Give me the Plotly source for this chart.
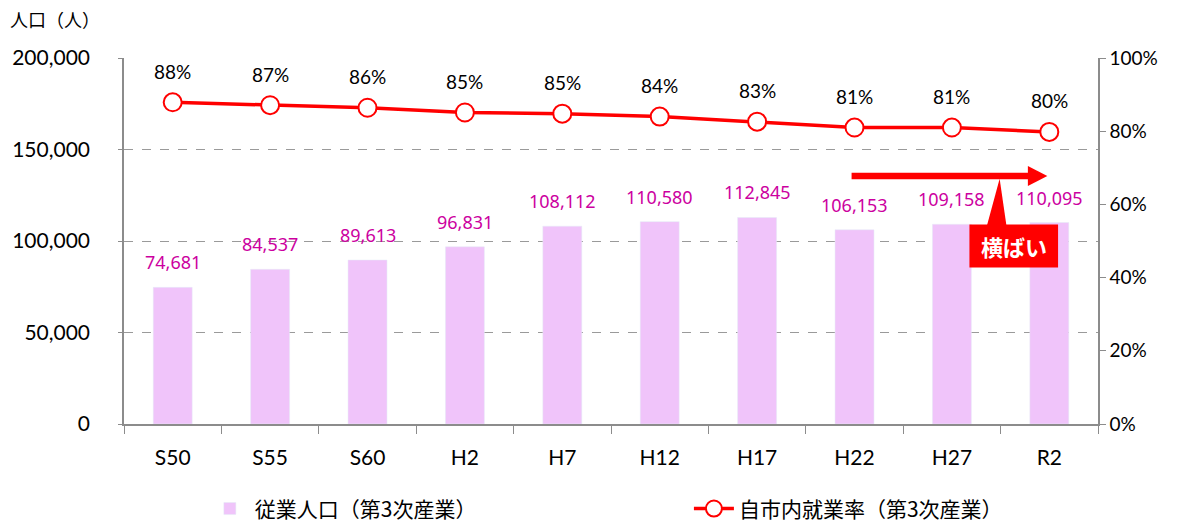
import plotly.graph_objects as go

categories = ["S50", "S55", "S60", "H2", "H7", "H12", "H17", "H22", "H27", "R2"]
workers = [74681, 84537, 89613, 96831, 108112, 110580, 112845, 106153, 109158, 110095]
rate = [0.879, 0.871, 0.864, 0.851, 0.848, 0.840, 0.826, 0.810, 0.810, 0.798]
rate_labels = ["88%", "87%", "86%", "85%", "85%", "84%", "83%", "81%", "81%", "80%"]

NUM_FONT = "Lato, Noto Sans CJK JP"
LBL_FONT = "Noto Sans, Noto Sans CJK JP"
JP_FONT = "Noto Sans CJK JP"
GRAY = "#8c8c8c"

fig = go.Figure()
fig.add_trace(go.Bar(
    x=categories, y=workers, name="従業人口（第3次産業）",
    marker=dict(color="#F0C4FA"), width=0.4, legend="legend", showlegend=True,
))
fig.add_trace(go.Scatter(
    x=categories, y=rate, name="自市内就業率（第3次産業）", yaxis="y2",
    mode="lines+markers", legend="legend2", showlegend=True,
    line=dict(color="#FF0000", width=3.5),
    marker=dict(size=18, color="white", line=dict(color="#FF0000", width=2)),
))

annotations = []
for c, v in zip(categories, workers):
    annotations.append(dict(x=c, y=v, xref="x", yref="y", text=f"{v:,}", showarrow=False,
                            yanchor="bottom", yshift=11,
                            font=dict(size=18, color="#CC00A0", family=LBL_FONT)))
for c, r, t in zip(categories, rate, rate_labels):
    annotations.append(dict(x=c, y=r, xref="x", yref="y2", text=t, showarrow=False,
                            yshift=31, font=dict(size=19, color="black", family=NUM_FONT)))
annotations.append(dict(x=0, y=1, xref="paper", yref="paper", xanchor="left", yanchor="bottom",
                        text="人口（人）", showarrow=False, xshift=-116, yshift=24,
                        font=dict(size=18, color="black", family=JP_FONT)))
annotations.append(dict(x=8.635, y=97500, xref="x", yref="y", text="<b>横ばい</b>", showarrow=False,
                        font=dict(size=22, color="white", family=JP_FONT)))

shapes = [
    dict(type="line", xref="x", yref="y", x0=6.97, x1=8.8, y0=135500, y1=135500,
         line=dict(color="#FF0000", width=6.5)),
    dict(type="path", xref="x", yref="y",
         path="M 8.78 141000 L 8.98 135500 L 8.78 130000 Z",
         fillcolor="#FF0000", line=dict(width=0)),
    dict(type="rect", xref="x", yref="y", x0=8.18, x1=9.09, y0=85500, y1=109000,
         fillcolor="#FF0000", line=dict(width=0)),
    dict(type="path", xref="x", yref="y",
         path="M 8.36 108500 L 8.49 134000 L 8.56 108500 Z",
         fillcolor="#FF0000", line=dict(width=0)),
]

fig.update_layout(
    width=1186, height=526,
    showlegend=True,
    margin=dict(l=124, r=88, t=58, b=102, autoexpand=False),
    plot_bgcolor="white", paper_bgcolor="white",
    font=dict(family=NUM_FONT, color="black"),
    xaxis=dict(range=[-0.5, 9.5], showline=True, linecolor=GRAY, linewidth=1.5,
               ticks="outside", tickson="boundaries", ticklen=8, tickcolor=GRAY,
               ticklabelstandoff=14,
               tickfont=dict(size=21, family=NUM_FONT), showgrid=False, automargin=False),
    yaxis=dict(range=[0, 200000], dtick=50000, tickformat=",", showline=True,
               linecolor=GRAY, linewidth=1.5, ticks="outside", ticklen=4, tickcolor=GRAY,
               ticklabelstandoff=24,
               showgrid=True, gridcolor="#9a9a9a", griddash="dash", gridwidth=1.2,
               zeroline=False, tickfont=dict(size=21, family=NUM_FONT), automargin=False),
    yaxis2=dict(range=[0, 1], dtick=0.2, tickformat=".0%", overlaying="y", side="right",
                showline=True, linecolor=GRAY, linewidth=1.5, ticks="outside", ticklen=6,
                tickcolor=GRAY, showgrid=False, zeroline=False, automargin=False,
                tickfont=dict(size=19, family=NUM_FONT)),
    legend=dict(orientation="h", x=0.083, xanchor="left", y=-0.232, yanchor="middle",
                font=dict(size=21, family=JP_FONT), itemwidth=40, visible=True),
    legend2=dict(orientation="h", x=0.580, xanchor="left", y=-0.232, yanchor="middle",
                 font=dict(size=21, family=JP_FONT), itemwidth=40, visible=True),
    annotations=annotations,
    shapes=shapes,
)

fig.write_html("out.html", config={"displayModeBar": False},
               post_script="document.body.style.margin='0';")
